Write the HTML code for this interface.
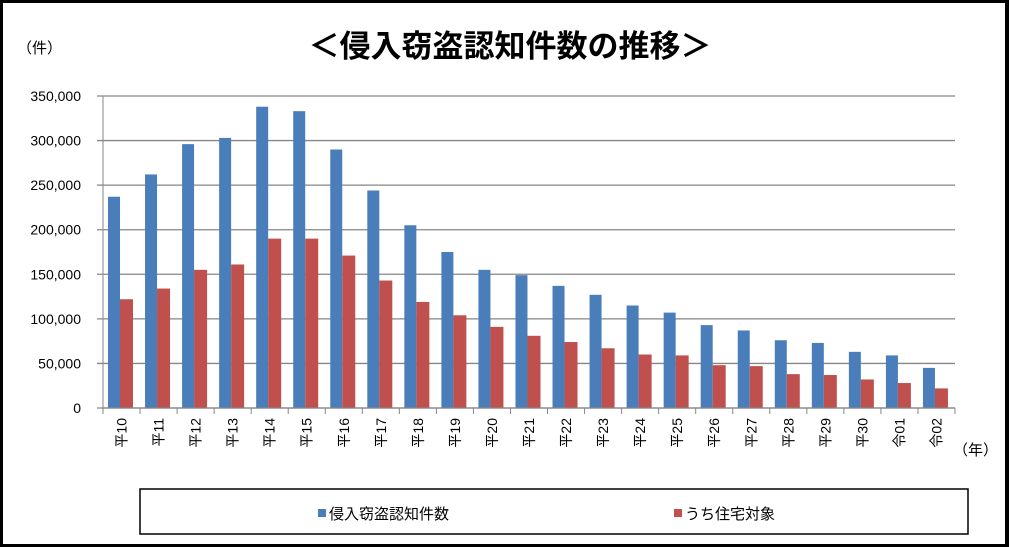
<!DOCTYPE html>
<html><head><meta charset="utf-8"><style>
body{margin:0;background:#fff;}
#wrap{position:relative;width:1009px;height:547px;box-sizing:border-box;border:3px solid #000;border-right-width:4px;background:#fff;font-family:"Liberation Sans","Noto Sans CJK JP",sans-serif;}
</style></head><body>
<div id="wrap">
<svg id="chart" width="1002" height="540" style="position:absolute;left:0;top:0">
<text x="507" y="54" text-anchor="middle" font-size="31" font-weight="bold" font-family="'Liberation Sans','Noto Sans CJK JP',sans-serif">＜侵入窃盗認知件数の推移＞</text>
<text x="14" y="50" font-size="15" font-family="'Liberation Sans','Noto Sans CJK JP',sans-serif">（件）</text>
<text x="950" y="452" font-size="15" font-family="'Liberation Sans','Noto Sans CJK JP',sans-serif">（年）</text>
<g id="grid"></g><g id="bars"></g><g id="axes"></g>
<rect x="137" y="486" width="828" height="45" fill="#fff" stroke="#000" stroke-width="1.5"/>
<rect x="315" y="506" width="8" height="8" fill="#4a7ebb"/>
<text x="326" y="516" font-size="15" font-family="'Liberation Sans','Noto Sans CJK JP',sans-serif">侵入窃盗認知件数</text>
<rect x="671" y="506" width="8" height="8" fill="#c0504d"/>
<text x="682" y="516" font-size="15" font-family="'Liberation Sans','Noto Sans CJK JP',sans-serif">うち住宅対象</text>
</svg>
</div>
<script>
const categories=["平10","平11","平12","平13","平14","平15","平16","平17","平18","平19","平20","平21","平22","平23","平24","平25","平26","平27","平28","平29","平30","令01","令02"];
const totalValues=[237000,262000,296000,303000,338000,333000,290000,244000,205000,175000,155000,149000,137000,127000,115000,107000,93000,87000,76000,73000,63000,59000,45000];
const residentialValues=[122000,134000,155000,161000,190000,190000,171000,143000,119000,104000,91000,81000,74000,67000,60000,59000,48000,47000,38000,37000,32000,28000,22000];
const yTicks=[0,50000,100000,150000,200000,250000,300000,350000];
const tickLabels=["0","50,000","100,000","150,000","200,000","250,000","300,000","350,000"];
const NS="http://www.w3.org/2000/svg";
const X0=100,X1=952,Y0=405,YMAX=350000,YTOP=93;
const bw=(X1-X0)/categories.length;
function y(v){return Y0-(v/YMAX)*(Y0-YTOP);}
function x(i){return X0+i*bw;}
function mk(t,a,p){const e=document.createElementNS(NS,t);for(const k in a)e.setAttribute(k,a[k]);p.appendChild(e);return e;}
const grid=document.getElementById('grid'),bars=document.getElementById('bars'),axes=document.getElementById('axes');
yTicks.forEach((v,i)=>{
 const l=mk('line',{x1:X0-6,x2:X1,y1:y(v),y2:y(v),stroke:'#868686','stroke-width':i%5==0?1.3:1.3},grid);
 
 
 const t=mk('text',{x:X0-22,y:y(v)+5,'text-anchor':'end','font-size':'14',fill:'#000'},grid);
 t.textContent=tickLabels[i];
 
 
});
categories.forEach((c,i)=>{
 const b=mk('rect',{x:x(i)+5,y:y(totalValues[i]),width:12,height:Y0-y(totalValues[i]),fill:'#4a7ebb'},bars);
 
 
 const r=mk('rect',{x:x(i)+17,y:y(residentialValues[i]),width:13,height:Y0-y(residentialValues[i]),fill:'#c0504d'},bars);
 
 
 const tk=mk('line',{x1:x(i),x2:x(i),y1:Y0,y2:Y0+6,stroke:'#868686'},axes);
 
 
 const cx=x(i)+bw/2+5, cy=Y0+10;
 const t=mk('text',{x:cx,y:cy,'text-anchor':'end','font-size':'14',transform:`rotate(-90 ${cx} ${cy})`},axes);
 t.textContent=c;
 
 
});
const tkE=mk('line',{x1:X1,x2:X1,y1:Y0,y2:Y0+6,stroke:'#868686'},axes);


const ya=mk('line',{x1:X0,x2:X0,y1:YTOP,y2:Y0+6,stroke:'#868686'},axes);


const xa=mk('line',{x1:X0,x2:X1,y1:Y0,y2:Y0,stroke:'#868686','stroke-width':1.3},axes);


</script>
</body></html>
